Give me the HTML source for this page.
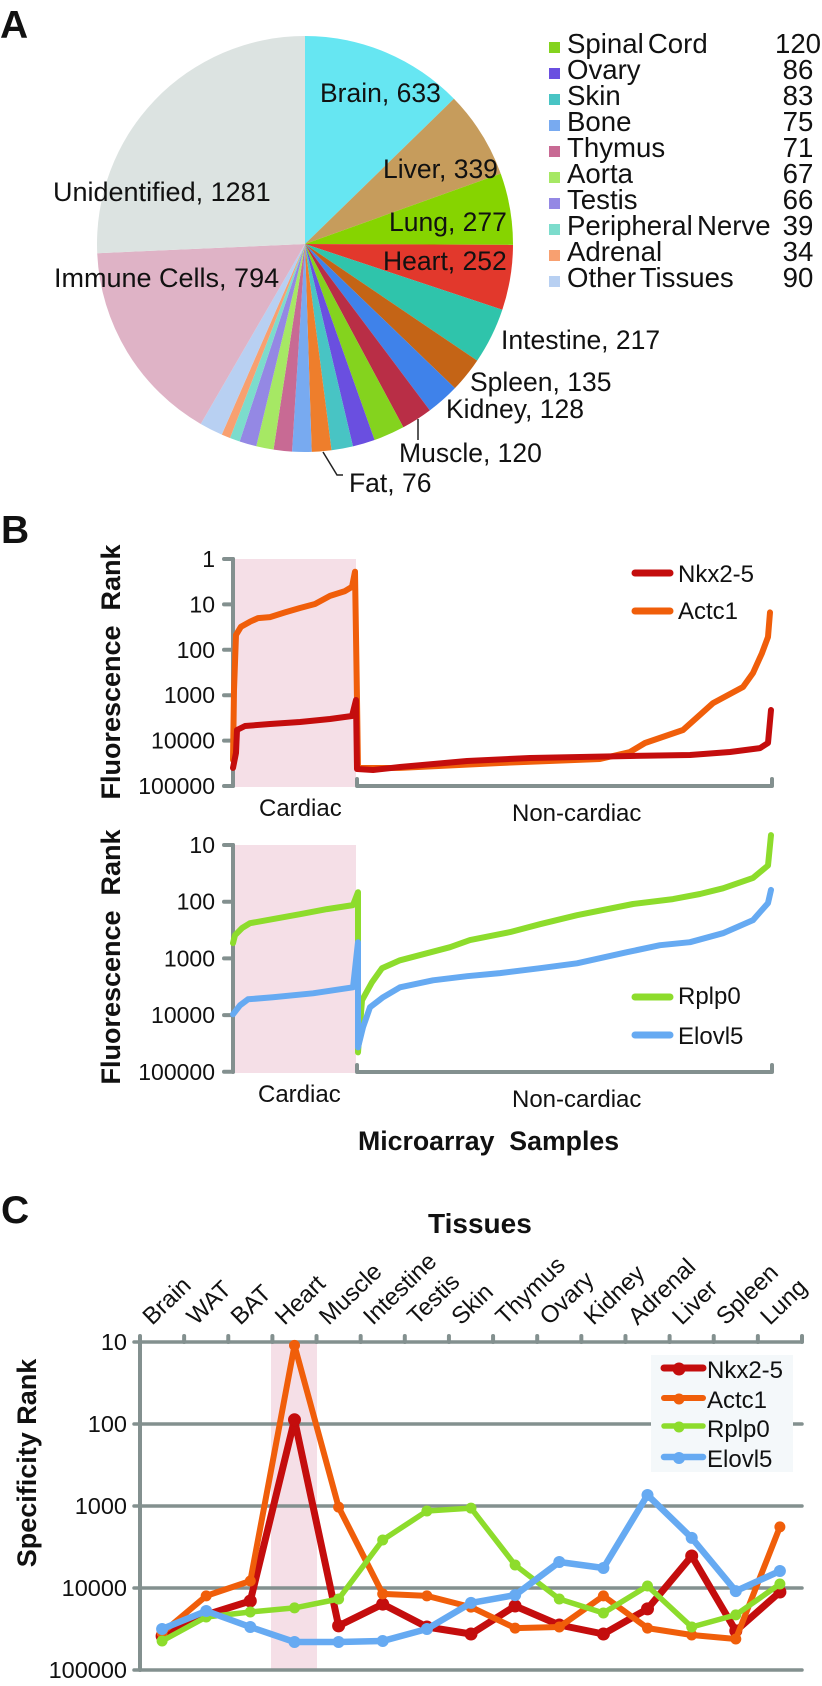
<!DOCTYPE html>
<html lang="en">
<head>
<meta charset="utf-8">
<title>Tissue distribution and fluorescence rank charts</title>
<style>
  html, body { margin: 0; padding: 0; background: #fff; }
  svg { display: block; }
  text { font-family: "Liberation Sans", Arial, sans-serif; fill: #111; }
  .panel { font-size: 39px; font-weight: bold; }
  .pie-label { font-size: 26.5px; }
  .legend-text { font-size: 27.6px; word-spacing: -3.5px; }
  .tick { font-size: 23px; text-anchor: end; }
  .tick-c { font-size: 23.5px; text-anchor: end; }
  .small { font-size: 24px; }
  .title { font-size: 27px; font-weight: bold; }
  .axis { stroke: #83908f; fill: none; stroke-linecap: round; stroke-linejoin: round; }
</style>
</head>
<body>
<svg id="fig" xmlns="http://www.w3.org/2000/svg" width="822" height="1686" viewBox="0 0 822 1686">
  <rect width="822" height="1686" fill="#fff"/>

  <!-- Panel A -->
  <text class="panel" x="0" y="38">A</text>
  <g id="pie"></g>
  <g>
    <text class="pie-label" x="320" y="102">Brain, 633</text>
    <text class="pie-label" x="383" y="178">Liver, 339</text>
    <text class="pie-label" x="389" y="231">Lung, 277</text>
    <text class="pie-label" x="383" y="270">Heart, 252</text>
    <text class="pie-label" x="501" y="349">Intestine, 217</text>
    <text class="pie-label" x="470" y="391">Spleen, 135</text>
    <text class="pie-label" x="446" y="418">Kidney, 128</text>
    <text class="pie-label" x="399" y="462">Muscle, 120</text>
    <text class="pie-label" x="349" y="492">Fat, 76</text>
    <text class="pie-label" x="53" y="201" style="font-size:27px">Unidentified, 1281</text>
    <text class="pie-label" x="54" y="287" style="font-size:27px">Immune Cells, 794</text>
    <path d="M418 419V440" stroke="#222" stroke-width="1.5" fill="none"/>
    <path d="M323 452L337 475H343" stroke="#222" stroke-width="1.5" fill="none"/>
  </g>
  <g>
    <g><rect x="549" y="42" width="11" height="11" fill="#84d31e"/><text class="legend-text" x="567" y="53">Spinal Cord</text><text class="legend-text" x="798" y="53" text-anchor="middle">120</text></g>
    <g><rect x="549" y="68" width="11" height="11" fill="#6a4fe0"/><text class="legend-text" x="567" y="79">Ovary</text><text class="legend-text" x="798" y="79" text-anchor="middle">86</text></g>
    <g><rect x="549" y="94" width="11" height="11" fill="#48c4c4"/><text class="legend-text" x="567" y="105">Skin</text><text class="legend-text" x="798" y="105" text-anchor="middle">83</text></g>
    <g><rect x="549" y="120" width="11" height="11" fill="#78aaf0"/><text class="legend-text" x="567" y="131">Bone</text><text class="legend-text" x="798" y="131" text-anchor="middle">75</text></g>
    <g><rect x="549" y="146" width="11" height="11" fill="#c86a94"/><text class="legend-text" x="567" y="157">Thymus</text><text class="legend-text" x="798" y="157" text-anchor="middle">71</text></g>
    <g><rect x="549" y="172" width="11" height="11" fill="#a6e864"/><text class="legend-text" x="567" y="183">Aorta</text><text class="legend-text" x="798" y="183" text-anchor="middle">67</text></g>
    <g><rect x="549" y="198" width="11" height="11" fill="#9488e4"/><text class="legend-text" x="567" y="209">Testis</text><text class="legend-text" x="798" y="209" text-anchor="middle">66</text></g>
    <g><rect x="549" y="224" width="11" height="11" fill="#7cdccc"/><text class="legend-text" x="567" y="235">Peripheral Nerve</text><text class="legend-text" x="798" y="235" text-anchor="middle">39</text></g>
    <g><rect x="549" y="250" width="11" height="11" fill="#f8a070"/><text class="legend-text" x="567" y="261">Adrenal</text><text class="legend-text" x="798" y="261" text-anchor="middle">34</text></g>
    <g><rect x="549" y="276" width="11" height="11" fill="#b8d0f2"/><text class="legend-text" x="567" y="287">Other Tissues</text><text class="legend-text" x="798" y="287" text-anchor="middle">90</text></g>
  </g>

  <!-- Panel B -->
  <text class="panel" x="1" y="543">B</text>
  <g id="chart-b1"></g>
  <text class="title" transform="translate(120,672) rotate(-90)" text-anchor="middle" xml:space="preserve">Fluorescence  Rank</text>
  <text class="small" x="259" y="816">Cardiac</text>
  <text class="small" x="512" y="821">Non-cardiac</text>
  <g>
    <line x1="635" x2="670" y1="573" y2="573" stroke="#c40d0d" stroke-width="7" stroke-linecap="round"/>
    <text class="small" x="678" y="582">Nkx2-5</text>
    <line x1="635" x2="670" y1="611" y2="611" stroke="#f05e0a" stroke-width="7" stroke-linecap="round"/>
    <text class="small" x="678" y="619">Actc1</text>
  </g>

  <g id="chart-b2"></g>
  <text class="title" transform="translate(120,957) rotate(-90)" text-anchor="middle" xml:space="preserve">Fluorescence  Rank</text>
  <text class="small" x="258" y="1102">Cardiac</text>
  <text class="small" x="512" y="1107">Non-cardiac</text>
  <g>
    <line x1="635" x2="670" y1="997" y2="997" stroke="#8ddc2c" stroke-width="7" stroke-linecap="round"/>
    <text class="small" x="678" y="1004">Rplp0</text>
    <line x1="635" x2="670" y1="1035" y2="1035" stroke="#66aaf2" stroke-width="7" stroke-linecap="round"/>
    <text class="small" x="678" y="1044">Elovl5</text>
  </g>
  <text class="title" x="358" y="1150" xml:space="preserve" style="font-size:26.7px">Microarray  Samples</text>

  <!-- Panel C -->
  <text class="panel" x="1" y="1223">C</text>
  <text class="title" x="428" y="1233" style="font-size:28px">Tissues</text>
  <g id="chart-c"></g>
  <text class="title" transform="translate(36,1463) rotate(-90)" text-anchor="middle">Specificity Rank</text>
</svg>

<script>
// ---------- Panel A data ----------
const pieCategories = ["Brain","Liver","Lung","Heart","Intestine","Spleen","Kidney","Muscle","Spinal Cord","Ovary","Skin","Fat","Bone","Thymus","Aorta","Testis","Peripheral Nerve","Adrenal","Other Tissues","Immune Cells","Unidentified"];
const pieValues = [633,339,277,252,217,135,128,120,120,86,83,76,75,71,67,66,39,34,90,794,1281];
const pieColors = ["#66e6f2","#c69c5c","#86d400","#e2382c","#2fc4ab","#c46416","#3f82ea","#b92e46","#84d31e","#6a4fe0","#48c4c4","#ee7e2c","#78aaf0","#c86a94","#a6e864","#9488e4","#7cdccc","#f8a070","#b8d0f2","#dfb3c6","#dce3e1"];

// ---------- Panel B data (sample index, fluorescence rank) ----------
const topTickLabels = ["1","10","100","1000","10000","100000"];
const bottomTickLabels = ["10","100","1000","10000","100000"];

const actc1Samples = [0,1,3,8,17,25,37,52,67,82,97,112,119,122,124,125,167,267,367,397,412,450,469,480,510,520,529,535,537];
const actc1Ranks = [26800,768,47,31,24,20,19,15,12,9.8,6.5,5.1,4.1,1.9,1276,40200,40000,31100,25400,17800,11300,5850,2470,1490,660,324,118,52,15];
const nkxSamples = [0,3,4,12,37,67,97,119,123,124,140,167,234,297,397,457,497,527,535,538];
const nkxRanks = [39900,18700,5850,4770,4300,3900,3340,2870,1276,42200,44400,38100,28100,24200,21800,20800,17800,14600,11300,2120];
const rplp0Samples = [0,2,9,17,40,67,94,120,125,125,129,139,149,167,217,237,277,307,344,400,440,467,490,520,535,538];
const rplp0Ranks = [538,389,292,239,203,166,135,115,68,45400,5480,2630,1490,1080,634,476,344,249,173,110,90,73,58,38,23,6.7];
const elovl5Samples = [0,7,15,40,80,120,125,125,130,137,150,167,200,234,267,307,344,394,427,457,490,520,535,538];
const elovl5Ranks = [9680,6710,5260,4850,4120,3230,518,37100,16400,7280,4850,3230,2430,2060,1820,1490,1220,777,585,518,359,211,106,62];

// ---------- Panel C data ----------
const tissues = ["Brain","WAT","BAT","Heart","Muscle","Intestine","Testis","Skin","Thymus","Ovary","Kidney","Adrenal","Liver","Spleen","Lung"];
const specificityTicks = ["10","100","1000","10000","100000"];
const nkxSpecificity = [38500,21300,14400,89,29000,15700,29900,36400,16600,28300,36400,18000,4070,33400,11200];
const actc1Specificity = [35400,12500,8220,11,1030,11800,12500,17100,30800,29900,12500,30800,37400,41900,1800];
const rplp0Specificity = [44300,22600,19600,17500,13600,2600,1150,1060,5240,13600,20200,9460,29900,21300,8940];
const elovl5Specificity = [31600,19100,29900,45600,45600,44300,31600,15200,12200,4820,5700,735,2450,10900,6200];

const NS = "http://www.w3.org/2000/svg";
function make(tag, attrs, parent) {
  const el = document.createElementNS(NS, tag);
  for (const k in attrs) el.setAttribute(k, attrs[k]);
  parent.appendChild(el);
  return el;
}

// Pie
(function () {
  const g = document.getElementById("pie");
  const cx = 305, cy = 244, r = 208;
  const total = pieValues.reduce((a, b) => a + b, 0);
  let acc = 0;
  pieValues.forEach((v, i) => {
    const a0 = acc / total * 2 * Math.PI - Math.PI / 2;
    acc += v;
    const a1 = acc / total * 2 * Math.PI - Math.PI / 2;
    const large = a1 - a0 > Math.PI ? 1 : 0;
    const d = "M" + cx + " " + cy + "L" + (cx + r * Math.cos(a0)).toFixed(2) + " " + (cy + r * Math.sin(a0)).toFixed(2) +
      "A" + r + " " + r + " 0 " + large + " 1 " + (cx + r * Math.cos(a1)).toFixed(2) + " " + (cy + r * Math.sin(a1)).toFixed(2) + "Z";
    const el = make("path", { d: d, fill: pieColors[i] }, g);
    
    
  });
})();

// Panel B axis functions
const sampleX = s => 233 + s;
function rankY(rank, y0, rank0, perDecade) {
  return y0 + (Math.log10(rank) - Math.log10(rank0)) * perDecade;
}
function drawBChart(g, opts) {
  const pink = make("rect", { x: 235, y: opts.y0, width: 121, height: opts.yEnd + 1 - opts.y0, fill: "#f5dfe7" }, g);
  
  
  const yAxis = make("path", { class: "axis", "stroke-width": 4, d: "M233 " + opts.y0 + "V" + opts.yEnd }, g);
  
  
  opts.ticks.forEach((t) => {
    const y = rankY(+t, opts.y0, opts.rank0, opts.perDecade);
    const tk = make("line", { class: "axis", "stroke-width": 4, x1: 224, x2: 233, y1: y, y2: y }, g);
    
    
    const lb = make("text", { class: "tick", x: 215, y: y + 8 }, g);
    lb.textContent = t;
    
    
  });
  const xa = make("path", { class: "axis", "stroke-width": 4, d: "M357 " + (opts.yEnd - 7) + "V" + opts.yEnd + "H772V" + (opts.yEnd - 7) }, g);
  
  
  opts.series.forEach((s) => {
    const d = s.x.map((v, i) => (i ? "L" : "M") + sampleX(v).toFixed(1) + " " + rankY(s.y[i], opts.y0, opts.rank0, opts.perDecade).toFixed(1)).join("");
    const p = make("path", { d: d, fill: "none", stroke: s.color, "stroke-width": s.w, "stroke-linecap": "round", "stroke-linejoin": "round" }, g);
    
    
  });
}
drawBChart(document.getElementById("chart-b1"), {
  y0: 559, yEnd: 786, rank0: 1, perDecade: 45.4, ticks: topTickLabels,
  series: [
    { name: "actc1", x: actc1Samples, y: actc1Ranks, color: "#f05e0a", w: 6 },
    { name: "nkx2-5", x: nkxSamples, y: nkxRanks, color: "#c40d0d", w: 6 }
  ]
});
drawBChart(document.getElementById("chart-b2"), {
  y0: 845, yEnd: 1072, rank0: 10, perDecade: 56.7, ticks: bottomTickLabels,
  series: [
    { name: "rplp0", x: rplp0Samples, y: rplp0Ranks, color: "#8ddc2c", w: 6 },
    { name: "elovl5", x: elovl5Samples, y: elovl5Ranks, color: "#66aaf2", w: 6 }
  ]
});

// Panel C
(function () {
  const g = document.getElementById("chart-c");
  const left = 140, right = 802, top = 1342, perDecade = 82;
  const step = (right - left) / tissues.length;
  const xBand = i => left + step * (i + 0.5);
  const yRank = r => top + (Math.log10(r) - 1) * perDecade;

  const pink = make("rect", { x: 271, y: top, width: 46, height: yRank(100000) - top + 1, fill: "#f5dfe7" }, g);
  
  

  specificityTicks.forEach((t) => {
    const y = yRank(+t);
    const ln = make("line", { class: "axis", "stroke-width": 3.5, x1: 134, x2: right, y1: y, y2: y }, g);
    
    
    const lb = make("text", { class: "tick-c", x: 127, y: y + 8 }, g);
    lb.textContent = t;
    
    
  });
  const ya = make("line", { class: "axis", "stroke-width": 4, x1: left, x2: left, y1: top, y2: yRank(100000) }, g);
  
  

  tissues.forEach((t, i) => {
    const tickX = left + step * i;
    const tk = make("line", { class: "axis", "stroke-width": 4, x1: tickX, x2: tickX, y1: top, y2: top - 6 }, g);
    
    
    const lb = make("text", { class: "small", style: "font-size:24px", transform: "translate(" + (xBand(i) - 10).toFixed(1) + ",1326) rotate(-44)" }, g);
    lb.textContent = t;
    
    
  });
  const endTick = make("line", { class: "axis", "stroke-width": 4, x1: right, x2: right, y1: top, y2: top - 6 }, g);
  
  

  const series = [
    { name: "nkx2-5", vals: nkxSpecificity, color: "#c40d0d", w: 7, r: 6.5 },
    { name: "actc1", vals: actc1Specificity, color: "#f05e0a", w: 6, r: 5.5 },
    { name: "rplp0", vals: rplp0Specificity, color: "#8ddc2c", w: 5.5, r: 5.5 },
    { name: "elovl5", vals: elovl5Specificity, color: "#66aaf2", w: 6.5, r: 6 }
  ];
  series.forEach((s) => {
    const sg = make("g", {}, g);
    
    
    const d = s.vals.map((v, i) => (i ? "L" : "M") + xBand(i).toFixed(1) + " " + yRank(v).toFixed(1)).join("");
    const p = make("path", { d: d, fill: "none", stroke: s.color, "stroke-width": s.w, "stroke-linejoin": "round" }, sg);
    
    
    s.vals.forEach((v, i) => {
      const c = make("circle", { cx: xBand(i).toFixed(1), cy: yRank(v).toFixed(1), r: s.r, fill: s.color }, sg);
      
      
    });
  });

  // Legend
  const lg = make("g", {}, g);
  
  
  const box = make("rect", { x: 651, y: 1355, width: 142, height: 117, fill: "#f4f8fa" }, lg);
  
  
  const legendY = [1368, 1398, 1426, 1457];
  const legendBase = [1378, 1408, 1437, 1467];
  const legendText = ["Nkx2-5", "Actc1", "Rplp0", "Elovl5"];
  series.forEach((s, i) => {
    const l = make("line", { x1: 664, x2: 703, y1: legendY[i], y2: legendY[i], stroke: s.color, "stroke-width": s.w, "stroke-linecap": "round" }, lg);
    
    
    const c = make("circle", { cx: 679, cy: legendY[i] + 1, r: s.r, fill: s.color }, lg);
    
    
    const tx = make("text", { class: "small", x: 707, y: legendBase[i] }, lg);
    tx.textContent = legendText[i];
    
    
  });
})();
</script>
</body>
</html>
